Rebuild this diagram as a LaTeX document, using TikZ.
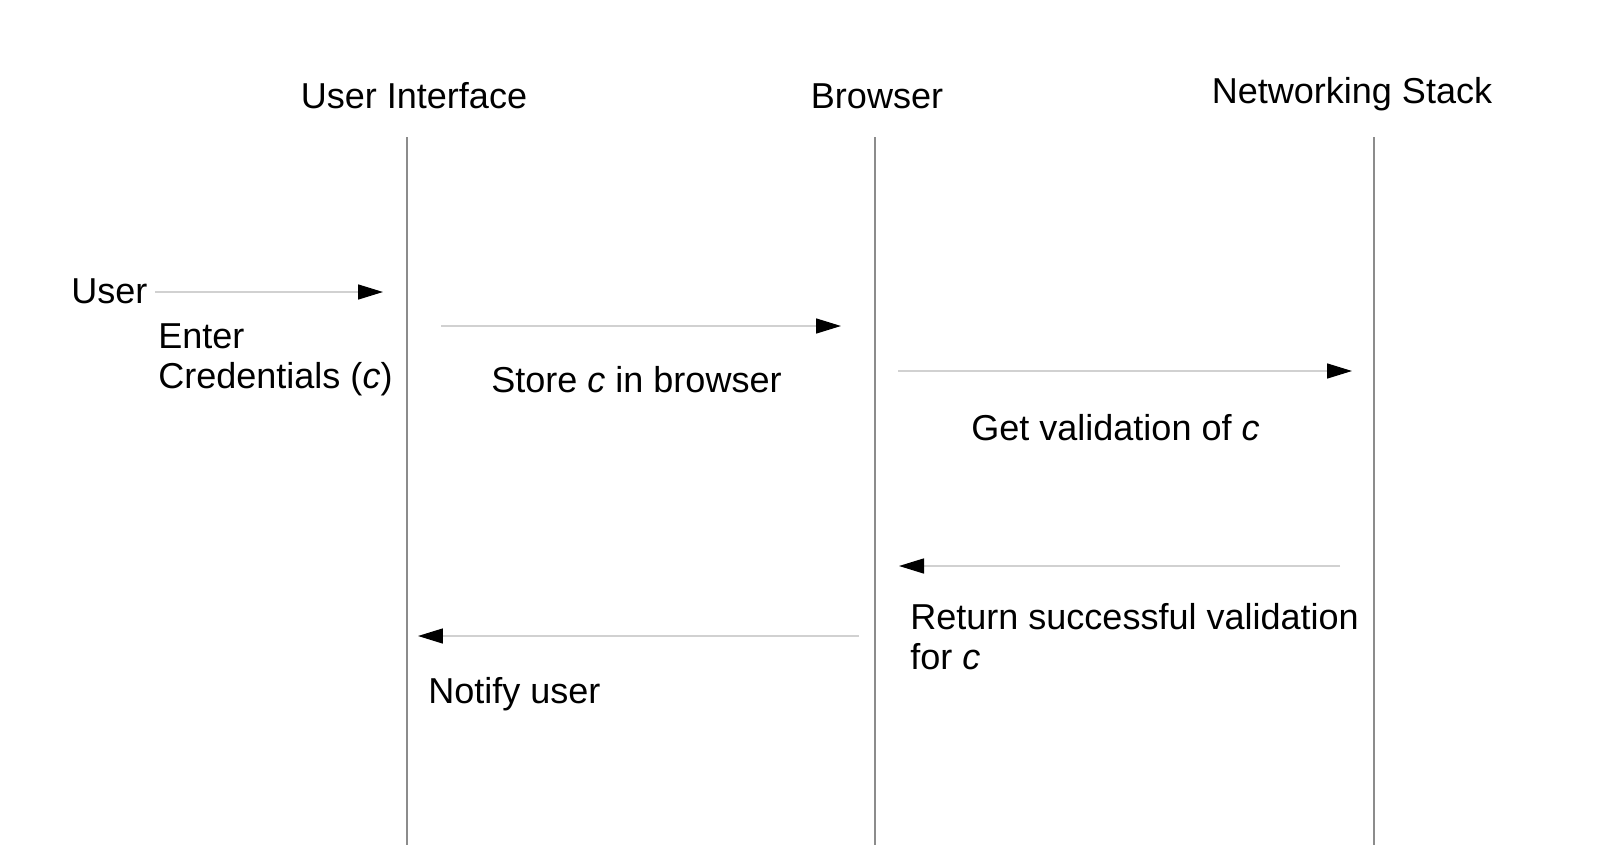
\documentclass[tikz,border=0pt]{standalone}
\usepackage{fontspec}
\setmainfont{Liberation Sans}
\usetikzlibrary{arrows.meta}

\begin{document}
\begin{tikzpicture}[x=0.02cm,y=-0.02cm,
    lifeline/.style={draw=gray!90,line width=0.8pt},
    msg/.style={draw=black!18,line width=0.9pt,-{Triangle[length=0.5cm,width=0.3cm,color=black]}},
    head/.style={font=\fontsize{20.5}{23}\selectfont,anchor=base,inner sep=0pt},
    lbl/.style={font=\fontsize{20.5}{22.5}\selectfont,anchor=base west,align=left,inner sep=0pt}]
  \useasboundingbox (0,0) rectangle (1600,845);
  % participants and their lifelines
  \node[head] (ui) at (414,108) {User Interface};
  \node[head] (browser) at (877,108) {Browser};
  \node[head] (net) at (1352,103) {Networking Stack};
  \foreach \p/\x in {ui/407,browser/875,net/1374} {
    \coordinate (\p top) at (\x,137);
    \coordinate (\p bot) at (\x,845);
    \draw[lifeline] (\p top) -- (\p bot);
  }
  % messages (base of a two-line label is its last line)
  \node[lbl] (user) at (71,303) {User};
  \coordinate (m1a) at (155,292);
  \coordinate (m1b) at (383,292);
  \draw[msg] (m1a) -- (m1b);
  \node[lbl] (enter) at (158,388) {Enter\\Credentials (\textit{c})};

  \coordinate (m2a) at (441,326);
  \coordinate (m2b) at (841,326);
  \draw[msg] (m2a) -- (m2b);
  \node[lbl] (store) at (491,392) {Store \textit{c} in browser};

  \coordinate (m3a) at (898,371);
  \coordinate (m3b) at (1352,371);
  \draw[msg] (m3a) -- (m3b);
  \node[lbl] (getval) at (971,440) {Get validation of \textit{c}};

  \coordinate (m4a) at (1340,566);
  \coordinate (m4b) at (899,566);
  \draw[msg] (m4a) -- (m4b);
  \node[lbl] (retval) at (910,669) {Return successful validation\\for \textit{c}};

  \coordinate (m5a) at (859,636);
  \coordinate (m5b) at (418,636);
  \draw[msg] (m5a) -- (m5b);
  \node[lbl] (notify) at (428,703) {Notify user};
\end{tikzpicture}
\end{document}
